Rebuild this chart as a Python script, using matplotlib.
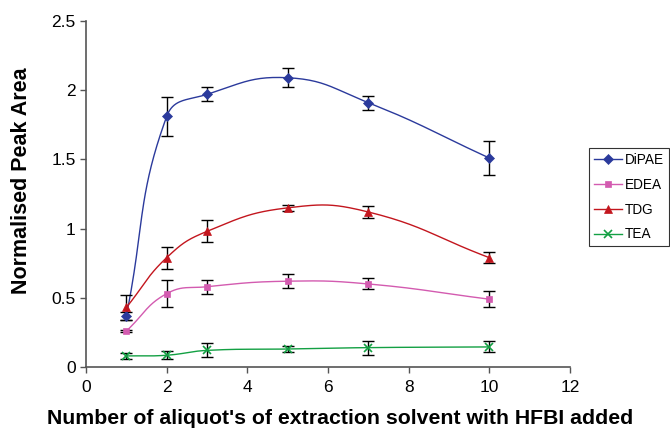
import numpy as np
import matplotlib
matplotlib.use("Agg")
import matplotlib.pyplot as plt
from matplotlib.lines import Line2D

plt.rcParams["font.family"] = ["Liberation Sans", "DejaVu Sans"]

x = [1, 2, 3, 5, 7, 10]
series_names = ["DiPAE", "EDEA", "TDG", "TEA"]
dipae = [0.37, 1.81, 1.97, 2.09, 1.91, 1.51]
dipae_err = [0.03, 0.14, 0.05, 0.07, 0.05, 0.12]
edea = [0.26, 0.53, 0.58, 0.62, 0.60, 0.49]
edea_err = [0.01, 0.10, 0.05, 0.05, 0.04, 0.06]
tdg = [0.43, 0.79, 0.98, 1.15, 1.12, 0.79]
tdg_err = [0.09, 0.08, 0.08, 0.02, 0.04, 0.04]
tea = [0.08, 0.085, 0.12, 0.13, 0.14, 0.145]
tea_err = [0.02, 0.03, 0.05, 0.02, 0.05, 0.04]

colors = ["#2b3a9c", "#d35bb0", "#c3161e", "#13a043"]
markers = ["D", "s", "^", "x"]
msizes = [5, 5, 6, 6]


def smooth(ax, xs, ys, n=40, s=0.45):
    P = ax.transData.transform(np.column_stack([xs, ys]))
    out = []
    m = len(P)
    for i in range(m - 1):
        p0 = P[i - 1] if i > 0 else P[i]
        p1 = P[i]; p2 = P[i + 1]
        p3 = P[i + 2] if i + 2 < m else P[i + 1]
        d01 = np.linalg.norm(p1 - p0); d12 = np.linalg.norm(p2 - p1); d23 = np.linalg.norm(p3 - p2)
        f1 = d12 / (d01 + d12) if d01 + d12 > 0 else 0
        f2 = d12 / (d12 + d23) if d12 + d23 > 0 else 0
        c1 = p1 + (p2 - p0) * s * f1
        c2 = p2 - (p3 - p1) * s * f2
        t = np.linspace(0, 1, n)[:, None]
        seg = (1 - t) ** 3 * p1 + 3 * (1 - t) ** 2 * t * c1 + 3 * (1 - t) * t ** 2 * c2 + t ** 3 * p2
        out.append(seg)
    pts = np.vstack(out)
    return ax.transData.inverted().transform(pts)


fig = plt.figure(figsize=(6.7, 4.33), dpi=100)
ax = fig.add_axes([86 / 670, 1 - 367 / 433, (570 - 86) / 670, (367 - 21) / 433])
ax.set_xlim(0, 12)
ax.set_ylim(0, 2.5)

data = [(dipae, dipae_err), (edea, edea_err), (tdg, tdg_err), (tea, tea_err)]
handles = []
for (ys, es), c, m, ms, name in zip(data, colors, markers, msizes, series_names):
    sm = smooth(ax, x, ys)
    ax.plot(sm[:, 0], sm[:, 1], color=c, lw=1.0, zorder=2)
    ax.errorbar(x, ys, yerr=es, fmt="none", ecolor="black", elinewidth=1.0,
                capsize=4, capthick=1.0, zorder=3)
    ax.plot(x, ys, linestyle="none", marker=m, color=c, markersize=ms,
            markeredgewidth=1.2 if m == "x" else 0.5, zorder=4)
    handles.append(Line2D([0], [0], color=c, lw=1.0, marker=m, markersize=ms,
                          markeredgewidth=1.2 if m == "x" else 0.5))

ax.set_xticks([0, 2, 4, 6, 8, 10, 12])
ax.set_yticks([0, 0.5, 1, 1.5, 2, 2.5])
ax.set_yticklabels(["0", "0.5", "1", "1.5", "2", "2.5"])
for sp in ["top", "right"]:
    ax.spines[sp].set_visible(False)
for sp in ["left", "bottom"]:
    ax.spines[sp].set_color("#555555")
    ax.spines[sp].set_linewidth(1.2)
ax.tick_params(axis="both", direction="out", length=4, color="#555555",
               labelsize=12.5, width=1.0)
ax.tick_params(axis="x", pad=5)

fig.text(22 / 670, 1 - 181 / 433, "Normalised Peak Area", rotation=90,
         ha="center", va="center", fontsize=15.5, fontweight="bold")
fig.text(340 / 670, 1 - 419 / 433, "Number of aliquot's of extraction solvent with HFBI added",
         ha="center", va="center", fontsize=15.3, fontweight="bold")

leg = fig.legend(handles, series_names, loc="upper left",
                 bbox_to_anchor=(589 / 670, 1 - 148 / 433), fontsize=9.8,
                 frameon=True, fancybox=False, edgecolor="black",
                 handlelength=2.1, borderpad=0.35, labelspacing=0.8,
                 handletextpad=0.2, borderaxespad=0)
leg.get_frame().set_linewidth(0.8)

fig.savefig("out.png", dpi=100)
